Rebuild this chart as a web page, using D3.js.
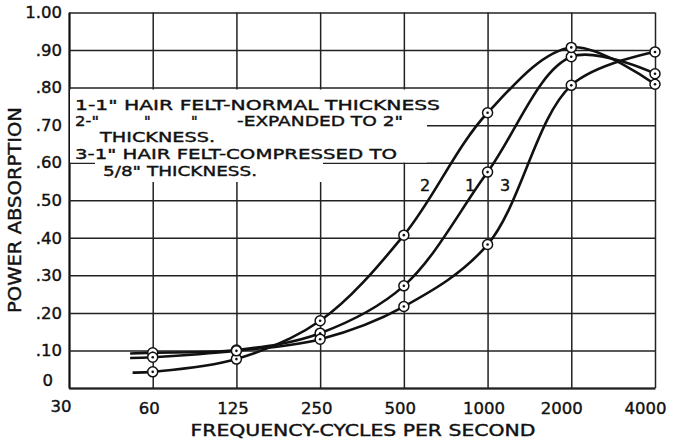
<!DOCTYPE html>
<html>
<head>
<meta charset="utf-8">
<script src="https://cdn.jsdelivr.net/npm/d3@7"></script>
<style>
  body { margin: 0; background: #fff; }
  svg { display: block; }
  text { font-family: "DejaVu Sans", sans-serif; fill: #111; stroke: #111; stroke-width: 0.4px; }
</style>
</head>
<body>
<svg></svg>
<script>
var width = 673;
var height = 439;

// octave band labels along the bottom (evenly spaced)
var freqLabels = ["30", "60", "125", "250", "500", "1000", "2000", "4000"];
// measured points sit on the bands 60 .. 4000
var bandIndex = [1, 2, 3, 4, 5, 6, 7];

var curve1 = [0.094, 0.101, 0.146, 0.272, 0.575, 0.882, 0.837]; // normal thickness
var curve2 = [0.043, 0.077, 0.179, 0.407, 0.733, 0.907, 0.809]; // expanded to 2"
var curve3 = [0.082, 0.099, 0.130, 0.217, 0.382, 0.806, 0.895]; // compressed to 5/8"

// where each drawn line begins, a little left of 60 cycles
var lineStartIndex = [0.73, 0.76, 0.73];
var lineStartValue = [0.092, 0.041, 0.080];

var yTicks = [0, 0.1, 0.2, 0.3, 0.4, 0.5, 0.6, 0.7, 0.8, 0.9, 1.0];

var xScale = d3.scaleLinear().domain([0, 7]).range([69, 655]);
var yScale = d3.scaleLinear().domain([0, 1]).range([388, 12.5]);

var svg = d3.select("svg").attr("width", width).attr("height", height);

// grid via axes
var xAxis = d3.axisBottom(xScale)
    .tickValues(d3.range(0, 8))
    .tickFormat(i => i == 0 ? "" : freqLabels[i])
    .tickSize(-(388 - 12.5))
    .tickSizeOuter(0)
    .tickPadding(14);
var yAxis = d3.axisLeft(yScale)
    .tickValues(yTicks)
    .tickFormat(v => v == 0 ? "" : (v == 1 ? "1.00" : d3.format(".2f")(v).slice(1)))
    .tickSize(-(655 - 69))
    .tickSizeOuter(0)
    .tickPadding(7);

var gx = svg.append("g")
    .attr("transform", "translate(0,388)")
    .call(xAxis);
var gy = svg.append("g")
    .attr("transform", "translate(69,0)")
    .call(yAxis);

[gx, gy].forEach(g => {
    g.attr("font-family", null).attr("font-size", null);
    g.select(".domain").attr("stroke", "#111").attr("stroke-width", 2);
    g.selectAll(".tick line").attr("stroke", "#222").attr("stroke-width", 1.5);
    g.selectAll(".tick text").style("font-size", "16.5px").attr("fill", "#111");
});
// labels sit a bit left of their lines, more so at the right end
gx.selectAll(".tick text").attr("dx", i => i >= 6 ? -10 : -4);

// corner labels
svg.append("text").attr("x", 53).attr("y", 386).attr("text-anchor", "end")
    .style("font-size", "16.5px").text("0");
svg.append("text").attr("x", 61).attr("y", 412).attr("text-anchor", "middle")
    .style("font-size", "16.5px").text(freqLabels[0]);

// white patch under the legend lettering
svg.append("rect").attr("x", 70).attr("y", 89.5).attr("width", 357).attr("height", 73).attr("fill", "#fff");
svg.append("rect").attr("x", 95).attr("y", 162).attr("width", 228).attr("height", 20).attr("fill", "#fff");

// curves
var allCurves = [curve1, curve2, curve3];
var line = d3.line()
    .x(d => xScale(d[0]))
    .y(d => yScale(d[1]))
    .curve(d3.curveCatmullRom.alpha(0.5));

allCurves.forEach((c, k) => {
    var pts = [[lineStartIndex[k], lineStartValue[k]]].concat(bandIndex.map((b, i) => [b, c[i]]));
    svg.append("path")
        .datum(pts)
        .attr("d", line)
        .attr("fill", "none")
        .attr("stroke", "#111")
        .attr("stroke-width", 2.6);
});

allCurves.forEach(c => {
    var g = svg.append("g").selectAll("g")
        .data(bandIndex.map((b, i) => [b, c[i]]))
        .enter().append("g")
        .attr("transform", d => `translate(${xScale(d[0])},${yScale(d[1])})`);
    g.append("circle").attr("r", 5).attr("fill", "#fff").attr("stroke", "#111").attr("stroke-width", 1.5);
    g.append("circle").attr("r", 1.3).attr("fill", "#111");
});

// legend lettering
var legend = svg.append("g").style("font-size", "14.5px");
function letter(x, y, s, len) {
    var t = legend.append("text").attr("x", x).attr("y", y).text(s);
    if (len) t.attr("textLength", len).attr("lengthAdjust", "spacingAndGlyphs");
}
letter(75, 110, "1-1\" HAIR FELT-NORMAL THICKNESS", 365);
letter(75, 126, "2-\"", 24);
letter(144, 126, "\"");
letter(191, 126, "\"");
letter(237, 126, "-EXPANDED TO 2\"", 166);
letter(100, 142, "THICKNESS.", 115);
letter(75, 159, "3-1\" HAIR FELT-COMPRESSED TO", 322);
letter(103, 176, "5/8\" THICKNESS.", 154);

// curve numbers
[["2", 425], ["1", 470], ["3", 505]].forEach(d => {
    svg.append("text").attr("x", d[1]).attr("y", 191).attr("text-anchor", "middle")
        .style("font-size", "16px").text(d[0]);
});

// axis titles
svg.append("text")
    .attr("x", 363).attr("y", 436)
    .attr("text-anchor", "middle")
    .attr("textLength", 345).attr("lengthAdjust", "spacingAndGlyphs")
    .style("font-size", "16px")
    .text("FREQUENCY-CYCLES PER SECOND");

svg.append("text")
    .attr("transform", "rotate(-90)")
    .attr("x", -210).attr("y", 21)
    .attr("text-anchor", "middle")
    .attr("textLength", 206).attr("lengthAdjust", "spacingAndGlyphs")
    .style("font-size", "17px")
    .text("POWER ABSORPTION");
</script>
</body>
</html>
